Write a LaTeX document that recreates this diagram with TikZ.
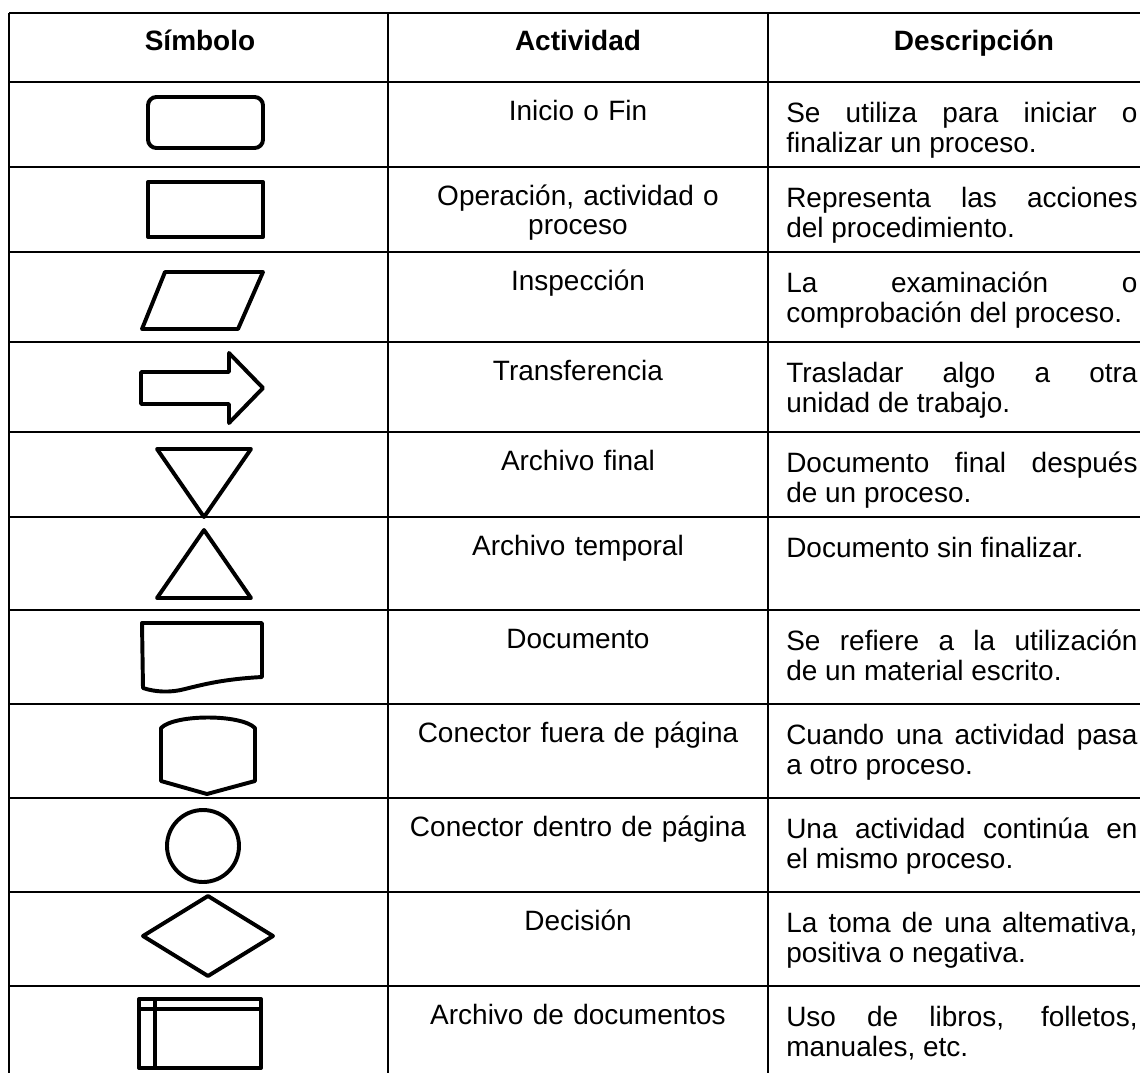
\documentclass[tikz,border=0pt]{standalone}
\usepackage{fontspec}
\setmainfont{Liberation Sans}
\tikzset{
  rejilla/.style={line width=1.4pt},
  simbolo/.style={line width=2.8pt, line join=round},
  cabecera/.style={font=\fontsize{19.9}{21.3}\selectfont\bfseries, inner sep=0pt, anchor=base},
  actividad/.style={font=\fontsize{19.9}{21.3}\selectfont, text width=9cm, align=center, inner sep=0pt, anchor=base},
  descripcion/.style={font=\fontsize{19.9}{21.5}\selectfont, text width=8.78cm, align=justify, inner sep=0pt, anchor=base west},
}
\begin{document}
\begin{tikzpicture}[x=0.025cm, y=-0.025cm]
\useasboundingbox (0,0) rectangle (1140,1073);
% rejilla de la tabla
\foreach \y in {13,82,167,252,342,432,517,610,704,798,892,986}
  \draw[rejilla] (9,\y) -- (1140,\y);
\foreach \x in {9,388,768}
  \draw[rejilla] (\x,13) -- (\x,1073);

% cabecera
\node[cabecera] (hsim) at (200,50) {Símbolo};
\node[cabecera] (hact) at (578,50) {Actividad};
\node[cabecera] (hdesc) at (974,50) {Descripción};

% textos de cada fila
\foreach \y/\a/\d [count=\i] in {
  82/{Inicio o Fin}/{Se utiliza para iniciar o\linebreak finalizar un proceso.},
  167/{Operación, actividad o\\proceso}/{Representa las acciones\linebreak del procedimiento.},
  252/{Inspección}/{La examinación o\linebreak comprobación del proceso.},
  342/{Transferencia}/{Trasladar algo a otra\linebreak unidad de trabajo.},
  432/{Archivo final}/{Documento final después\linebreak de un proceso.},
  517/{Archivo temporal}/{Documento sin finalizar.},
  610/{Documento}/{Se refiere a la utilización\linebreak de un material escrito.},
  704/{Conector fuera de página}/{Cuando una actividad pasa\linebreak a otro proceso.},
  798/{Conector dentro de página}/{Una actividad continúa en\linebreak el mismo proceso.},
  892/{Decisión}/{La toma de una altemativa,\linebreak positiva o negativa.},
  986/{Archivo de documentos}/{Uso de libros, folletos,\linebreak manuales, etc.}
}{
  \node[actividad] (act\i) at (578,\y+38) {\a};
  \node[descripcion] (desc\i) at (786,\y+40) {\d};
}

% simbolos
\draw[simbolo, rounded corners=6pt] (148,97) rectangle (263,148);
\draw[simbolo] (148,182) rectangle (263,237);
\draw[simbolo] (165,272) -- (263,272) -- (238,329) -- (142,329) -- cycle;
\draw[simbolo] (141,372) -- (229,372) -- (229,353) -- (263,388) -- (229,423) -- (229,404) -- (141,404) -- cycle;
\draw[simbolo] (157,449) -- (251,449) -- (204,517) -- cycle;
\draw[simbolo] (204,530) -- (251,598) -- (157,598) -- cycle;
\draw[simbolo] (142,623) -- (262,623) -- (262,677)
  .. controls (225,679) and (205,684) .. (185,689)
  .. controls (170,693) and (155,692) .. (143,688) -- cycle;
\draw[simbolo] (161,781) -- (161,728) .. controls (175,714) and (241,714) .. (255,728)
  -- (255,781) -- (207,794) -- cycle;
\draw[simbolo] (203,846) circle[radius=36];
\draw[simbolo] (208,896) -- (273,936) -- (208,976) -- (143,936) -- cycle;
\draw[simbolo] (139,999) rectangle (261,1068);
\draw[simbolo] (139,1009) -- (261,1009);
\draw[simbolo] (155,999) -- (155,1068);
\end{tikzpicture}
\end{document}
